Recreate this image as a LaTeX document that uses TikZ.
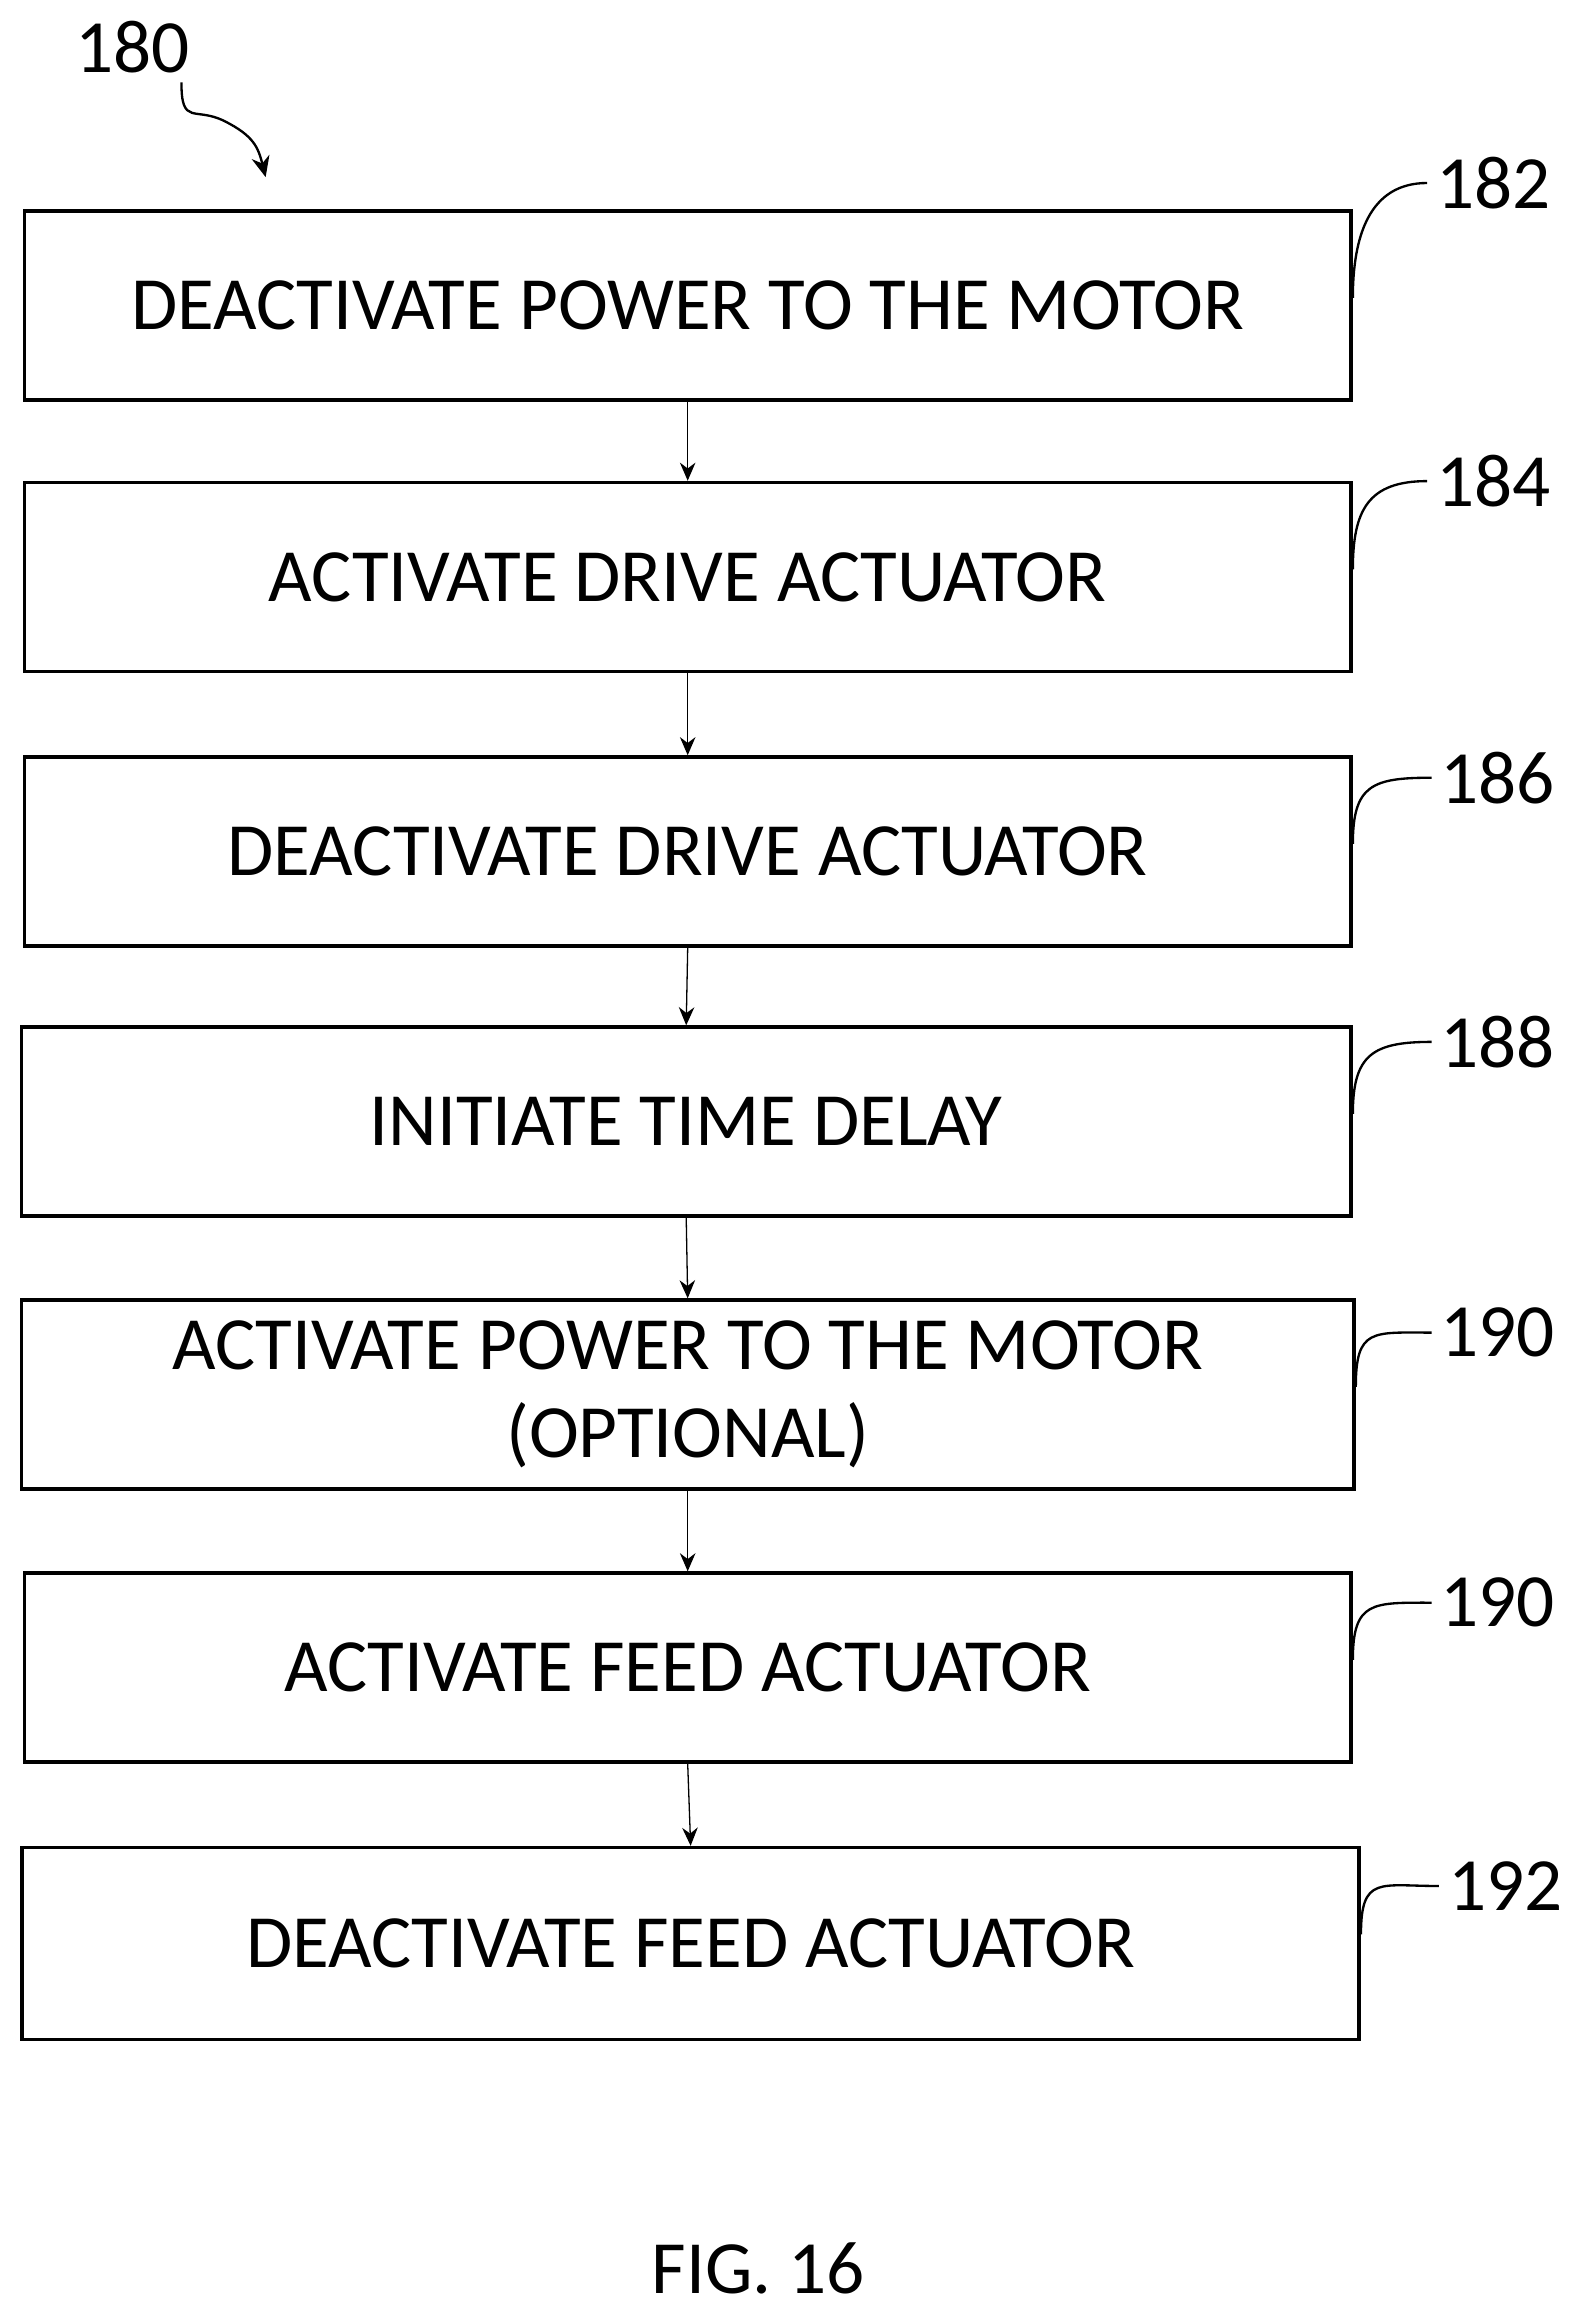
\documentclass[tikz,border=0pt]{standalone}
\usepackage{fontspec}
\setmainfont{Carlito}
\usetikzlibrary{calc,arrows.meta}
\tikzset{
  stepbox/.style={draw, line width=1.4pt, minimum width=899*0.02cm, minimum height=128*0.02cm, align=center, inner sep=0pt},
  flow/.style={-{Stealth[length=7pt,width=6pt]}, line width=0.5pt},
  leader/.style={line width=0.9pt},
}
\begin{document}
\begin{tikzpicture}[x=0.02cm,y=-0.02cm,font=\fontsize{29}{34}\selectfont]
	\useasboundingbox (0,0) rectangle (1069,1566);

	%process steps
	\node[stepbox] (b1) at (466,207) {DEACTIVATE POWER TO THE MOTOR};
	\node[stepbox] (b2) at (466,391) {ACTIVATE DRIVE ACTUATOR};
	\node[stepbox] (b3) at (466,577) {DEACTIVATE DRIVE ACTUATOR};
	\node[stepbox, minimum width=901*0.02cm] (b4) at (465,760) {INITIATE TIME DELAY};
	\node[stepbox, minimum width=903*0.02cm] (b5) at (466,945) {ACTIVATE POWER TO THE MOTOR\\(OPTIONAL)};
	\node[stepbox] (b6) at (466,1130) {ACTIVATE FEED ACTUATOR};
	\node[stepbox, minimum width=906*0.02cm, minimum height=130*0.02cm] (b7) at (468,1317) {DEACTIVATE FEED ACTUATOR};

	%arrows between steps
	\foreach \a/\b in {b1/b2,b2/b3,b3/b4,b4/b5,b5/b6,b6/b7}
		\draw[flow] (\a.south) -- (\b.north);

	%reference numerals
	\node (l1) at (1012,124) {182};
	\node (l2) at (1012,326) {184};
	\node (l3) at (1015,527) {186};
	\node (l4) at (1015,706) {188};
	\node (l5) at (1015,903) {190};
	\node (l6) at (1015,1086) {190};
	\node (l7) at (1020,1278) {192};
	\foreach \l/\b in {l1/b1,l2/b2,l3/b3,l4/b4,l5/b5,l6/b6,l7/b7}
		\draw[leader] (\l.west) .. controls +(-40,0) and +(0,-40) .. ($(\b.north east)+(0,60)$);

	%figure number
	\node (l0) at (90,32) {180};
	\coordinate (a0) at (180,120);
	\draw[leader, -{Stealth[length=8pt,width=7pt]}] ($(l0.south east)+(-12,0)$) .. controls +(0,30) and +(-20,-10) .. (152,82) .. controls +(20,10) and +(-5,-20) .. (a0);

	\node (fig) at (514,1537) {FIG. 16};
\end{tikzpicture}
\end{document}
